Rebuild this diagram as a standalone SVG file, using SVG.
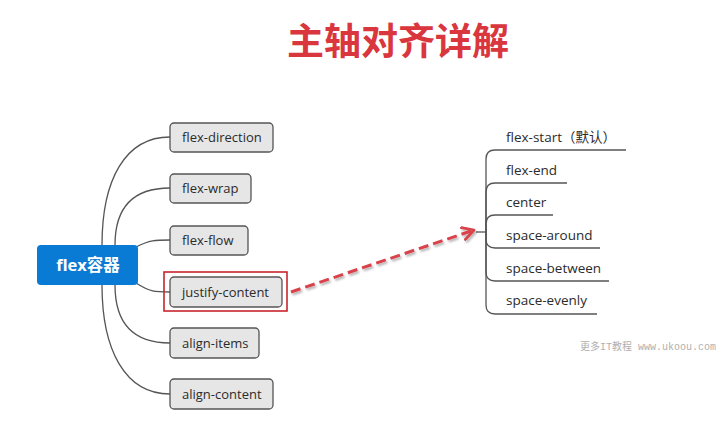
<svg xmlns="http://www.w3.org/2000/svg" width="725" height="441" viewBox="0 0 725 441">
<defs>
<style>
.node rect{fill:#e6e6e6;stroke:#555;stroke-width:1.3}
.lbl{font-family:"Open Sans","Noto Sans",sans-serif;font-size:13px;fill:#2b2b2b}
.rl{font-family:"Open Sans","Noto Sans","Noto Sans CJK SC",sans-serif;font-size:13.5px;fill:#2b2b2b}
.conn path{fill:none;stroke:#555;stroke-width:1.3}
</style>
<marker id="ah" viewBox="0 0 12 12" refX="10" refY="6" markerWidth="5" markerHeight="5" markerUnits="strokeWidth" orient="auto">
<path d="M1,1 L10,6 L1,11" fill="none" stroke="#d9434b" stroke-width="2.2" stroke-linecap="round" stroke-linejoin="round"/>
</marker>
<filter id="sh" x="-10%" y="-50%" width="120%" height="200%">
<feDropShadow dx="1.5" dy="2" stdDeviation="1.2" flood-color="#000" flood-opacity="0.3"/>
</filter>
</defs>
<rect width="725" height="441" fill="#fff"/>
<text x="398" y="55" text-anchor="middle" font-family="'Noto Sans CJK SC',sans-serif" font-size="37" font-weight="bold" fill="#d9363e">主轴对齐详解</text>

<g id="connectors" class="conn">
<path d="M102,245 C102,180 125,137 170,137"/>
<path d="M115,245 C115,205 135,188 170,188"/>
<path d="M136,247 C150,240 155,240 170,240"/>
<path d="M136,283 C150,292 155,292 170,292"/>
<path d="M115,285 C115,325 135,343 170,343"/>
<path d="M102,285 C102,350 125,394 170,394"/>
<path d="M476,232 L486,232"/>
<path d="M486,232 L486,159 Q486,150 495,150 L626,150"/>
<path d="M486,232 L486,192 Q486,183 495,183 L567,183"/>
<path d="M486,232 L486,224 Q486,215 495,215 L553,215"/>
<path d="M486,232 L486,239 Q486,248 495,248 L600,248"/>
<path d="M486,232 L486,272 Q486,281 495,281 L609,281"/>
<path d="M486,232 L486,305 Q486,314 495,314 L597,314"/>
</g>

<g id="root">
<rect x="37" y="245" width="101" height="40" rx="4" fill="#0a7bd4"/>
<text x="88" y="271" text-anchor="middle" font-family="'Open Sans','Noto Sans CJK SC',sans-serif" font-size="16.5" font-weight="bold" fill="#fff">flex容器</text>
</g>
<g id="n-direction" class="node"><rect x="170" y="123" width="103" height="29" rx="4"/><text class="lbl" x="182" y="142">flex-direction</text></g>
<g id="n-wrap" class="node"><rect x="170" y="174" width="81" height="29" rx="4"/><text class="lbl" x="182" y="193">flex-wrap</text></g>
<g id="n-flow" class="node"><rect x="170" y="226" width="78" height="29" rx="4"/><text class="lbl" x="182" y="245">flex-flow</text></g>
<g id="n-justify" class="node"><rect x="170" y="277" width="112" height="30" rx="4"/><text class="lbl" x="182" y="297">justify-content</text></g>
<rect id="highlight" x="164" y="272" width="123" height="39" fill="none" stroke="#c8262c" stroke-width="1.6"/>
<g id="n-items" class="node"><rect x="170" y="328" width="89" height="30" rx="4"/><text class="lbl" x="182" y="348">align-items</text></g>
<g id="n-content" class="node"><rect x="170" y="379" width="103" height="30" rx="4"/><text class="lbl" x="182" y="399">align-content</text></g>

<g id="arrow">
<path d="M291,292 L474,230" fill="none" stroke="#d9434b" stroke-width="3" stroke-dasharray="10,5" marker-end="url(#ah)" filter="url(#sh)"/>
</g>

<g id="values">
<text class="rl" x="506" y="142">flex-start（默认）</text>
<text class="rl" x="506" y="175">flex-end</text>
<text class="rl" x="506" y="207">center</text>
<text class="rl" x="506" y="240">space-around</text>
<text class="rl" x="506" y="273">space-between</text>
<text class="rl" x="506" y="305">space-evenly</text>
</g>
<text x="580" y="350" font-family="'Liberation Mono','Noto Sans CJK SC',monospace" font-size="10" fill="#b0b0b0">更多IT教程 www.ukoou.com</text>
</svg>
